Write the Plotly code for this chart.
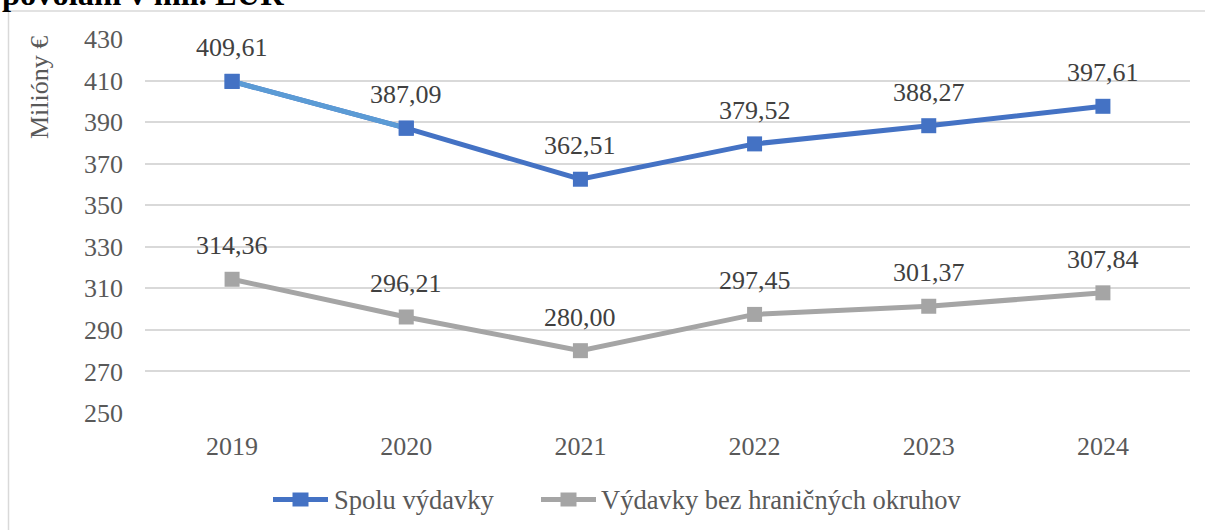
import plotly.graph_objects as go

years = ["2019", "2020", "2021", "2022", "2023", "2024"]
spolu = [409.61, 387.09, 362.51, 379.52, 388.27, 397.61]
bez_okruhov = [314.36, 296.21, 280.00, 297.45, 301.37, 307.84]
series_names = ["Spolu výdavky", "Výdavky bez hraničných okruhov"]
y_ticks = [250, 270, 290, 310, 330, 350, 370, 390, 410, 430]
title_text = "povolaní v mil. EUR"
y_title = "Milióny €"

BLUE = "#4472C4"
LIGHT_BLUE = "#5B9BD5"
GRAY = "#A5A5A5"
FONT = "Liberation Serif, Times New Roman, serif"

# plot area in page pixels
L, R, T, B = 145, 1190, 39, 413
W, H = 1205, 530

def px_x(p):
    return (p - L) / (R - L)

def px_y(p):
    return (B - p) / (B - T)

def fmt(v):
    return f"{v:.2f}".replace(".", ",")

fig = go.Figure()
fig.add_trace(go.Scatter(
    x=years, y=spolu, name=series_names[0], mode="lines+markers",
    line=dict(color=BLUE, width=5),
    marker=dict(symbol="square", size=15, color=BLUE),
))
fig.add_trace(go.Scatter(
    x=years[0:2], y=spolu[0:2], mode="lines", showlegend=False, hoverinfo="skip",
    line=dict(color=LIGHT_BLUE, width=5),
))
fig.add_trace(go.Scatter(
    x=years[0:2], y=spolu[0:2], mode="markers", showlegend=False, hoverinfo="skip",
    marker=dict(symbol="square", size=15, color=BLUE),
))
fig.add_trace(go.Scatter(
    x=years, y=bez_okruhov, name=series_names[1], mode="lines+markers",
    line=dict(color=GRAY, width=5),
    marker=dict(symbol="square", size=15, color=GRAY),
))

annotations = []
for series in (spolu, bez_okruhov):
    for i, v in enumerate(series):
        annotations.append(dict(
            x=i, y=v, xref="x", yref="y", text=fmt(v), showarrow=False,
            yanchor="bottom", yshift=17,
            font=dict(family=FONT, size=26, color="#404040"),
        ))

annotations.append(dict(
    x=px_x(0), y=px_y(14), xref="paper", yref="paper", xanchor="left", yanchor="bottom",
    text=f"<b>{title_text}</b>", showarrow=False,
    font=dict(family=FONT, size=32.5, color="#000000"),
))
annotations.append(dict(
    x=px_x(40), y=px_y(88), xref="paper", yref="paper", xanchor="center", yanchor="middle",
    text=y_title, showarrow=False, textangle=-90,
    font=dict(family=FONT, size=26, color="#595959"),
))

# custom legend (line segment + square marker + label)
shapes = [dict(type="rect", xref="paper", yref="paper",
               x0=px_x(8.5), x1=px_x(1300), y0=px_y(700), y1=px_y(11),
               line=dict(color="#D9D9D9", width=1.5), fillcolor="rgba(0,0,0,0)",
               layer="below")]
legend_items = [(series_names[0], BLUE, 273, 328, 332),
                (series_names[1], GRAY, 541, 596, 599)]
LEG_Y = 499.5
for name, col, x0, x1, tx in legend_items:
    shapes.append(dict(type="line", xref="paper", yref="paper",
                       x0=px_x(x0), x1=px_x(x1), y0=px_y(LEG_Y), y1=px_y(LEG_Y),
                       line=dict(color=col, width=5)))
    cx = (x0 + x1) / 2
    shapes.append(dict(type="rect", xref="paper", yref="paper",
                       x0=px_x(cx - 8), x1=px_x(cx + 8), y0=px_y(LEG_Y + 7), y1=px_y(LEG_Y - 7),
                       line=dict(width=0), fillcolor=col))
    annotations.append(dict(
        x=px_x(tx), y=px_y(LEG_Y), xref="paper", yref="paper", xanchor="left",
        yanchor="middle", text=name, showarrow=False,
        font=dict(family=FONT, size=26.5, color="#595959"),
    ))

fig.update_layout(
    width=W, height=H,
    margin=dict(l=L, r=W - R, t=T, b=H - B, autoexpand=False),
    paper_bgcolor="white", plot_bgcolor="white",
    font=dict(family=FONT, color="#595959"),
    showlegend=False,
    annotations=annotations,
    shapes=shapes,
)
fig.update_xaxes(
    type="category", range=[-0.5, 5.5], showgrid=False, showline=False,
    ticks="", ticklabelstandoff=15,
    tickfont=dict(family=FONT, size=26, color="#595959"),
)
fig.update_yaxes(
    range=[250, 430], tickvals=y_ticks, showgrid=True, gridcolor="#D9D9D9",
    gridwidth=1.5, zeroline=False, showline=False, ticks="",
    tickfont=dict(family=FONT, size=26, color="#595959"), ticklabelstandoff=21,
)

fig.write_html("out.html", config={"displayModeBar": False},
               post_script="document.body.style.margin='0px';")
